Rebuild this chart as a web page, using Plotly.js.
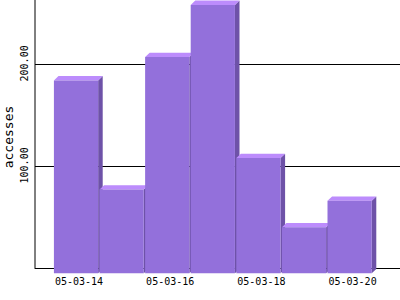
<!DOCTYPE html>
<html>
<head>
<meta charset="utf-8">
<script src="https://cdn.plot.ly/plotly-3.0.1.min.js"></script>
<style>html,body{margin:0;padding:0;background:#fff;}#chart{width:400px;height:300px;}</style>
</head>
<body>
<div id="chart"></div>
<script>
// Data
const days = ['05-03-14','05-03-15','05-03-16','05-03-17','05-03-18','05-03-19','05-03-20'];
const accesses = [189, 82, 212, 263, 113, 45, 71];
const xTickDays = ['05-03-14','05-03-16','05-03-18','05-03-20'];
const yTickValues = [0, 100, 200];
const yTickLabels = ['', '100.00', '200.00'];

// 3D styling (in axis units)
const DX = 0.1, DY = 4.2, L = -0.55, R = 0.42;

const frontFace = {x: [], y: []}, topFace = {x: [], y: []}, sideFace = {x: [], y: []};
days.forEach((d, i) => {
  const v = accesses[i];
  const x0 = i + L, x1 = i + R;
  frontFace.x.push(x0, x1, x1, x0, x0, null);
  frontFace.y.push(-DY, -DY, v - DY, v - DY, -DY, null);
  topFace.x.push(x0, x1, x1 + DX, x0 + DX, x0, null);
  topFace.y.push(v - DY, v - DY, v, v, v - DY, null);
  sideFace.x.push(x1, x1 + DX, x1 + DX, x1, x1, null);
  sideFace.y.push(v - DY, v, 0, -DY, v - DY, null);
});

const mk = (p, color) => ({
  type: 'scatter', mode: 'lines', x: p.x, y: p.y, fill: 'toself',
  fillcolor: color, line: {width: 0, color: color}, hoverinfo: 'skip', showlegend: false
});

const data = [
  mk(sideFace, 'rgb(110,82,168)'),
  mk(topFace, 'rgb(188,140,252)'),
  mk(frontFace, 'rgb(147,112,219)')
];

const layout = {
  width: 400, height: 300,
  margin: {l: 35, r: 0, t: 0, b: 26, pad: 0},
  paper_bgcolor: '#fff', plot_bgcolor: '#fff',
  showlegend: false,
  font: {family: 'DejaVu Sans Mono, monospace', size: 10, color: '#000'},
  xaxis: {
    range: [-0.965, 7.04], showgrid: false, zeroline: false, showline: false,
    tickmode: 'array', tickvals: xTickDays.map(d => days.indexOf(d)), ticktext: xTickDays,
    ticks: '', tickfont: {size: 10}
  },
  yaxis: {
    range: [-5, 263.6], showgrid: true, gridcolor: '#000', gridwidth: 1,
    zeroline: false, showline: false,
    tickmode: 'array', tickvals: yTickValues, ticktext: yTickLabels,
    ticks: '', tickangle: -90, tickfont: {size: 10}, ticklabelstandoff: 4,
    title: {text: 'accesses', font: {size: 13}, standoff: 2}
  },
  shapes: [
    {type: 'line', xref: 'paper', yref: 'y', x0: 0, x1: 0, y0: 0, y1: 263.6,
     line: {color: '#000', width: 1}}
  ]
};

Plotly.newPlot('chart', data, layout, {staticPlot: true, displayModeBar: false});
</script>
</body>
</html>
